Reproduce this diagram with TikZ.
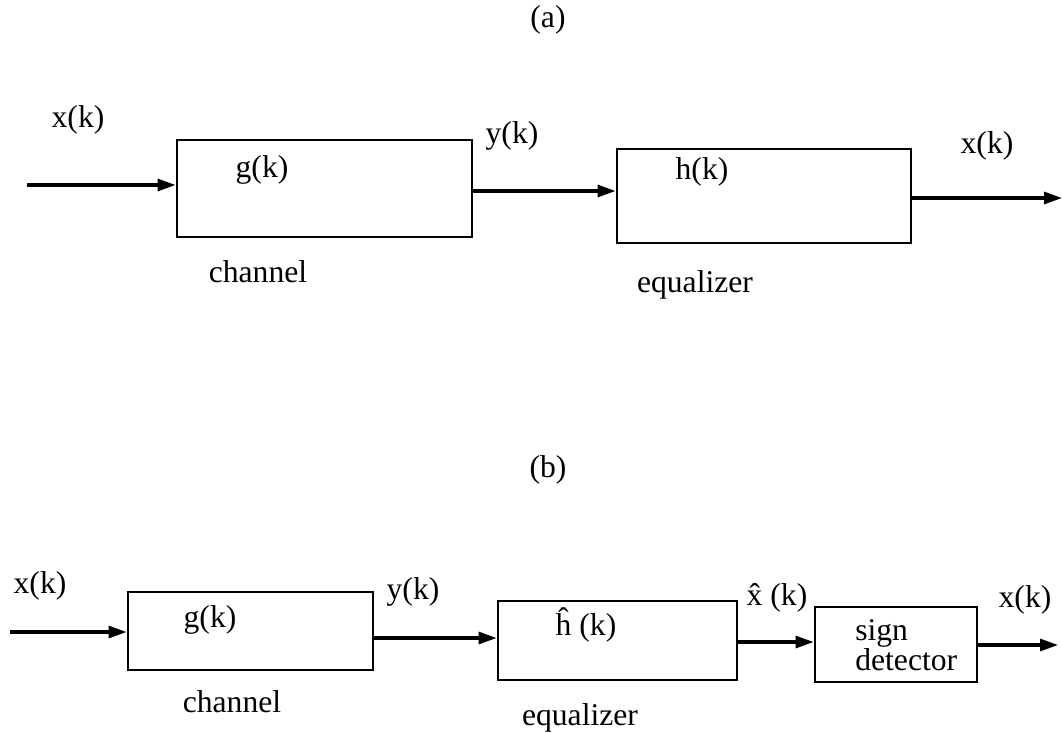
\documentclass[tikz,border=0pt]{standalone}
\usepackage{fontspec}
\setmainfont{Liberation Serif}
\usepackage{tikz}
\usetikzlibrary{positioning,arrows.meta}
\usepackage{xcolor}

\tikzset{
  blk/.style={draw,line width=2pt,rectangle,inner sep=0pt},
  lbl/.style={inner sep=0pt,font=\fontsize{22.5}{21}\selectfont},
  sig/.style={->,line width=2.2pt}
}

\begin{document}
\begin{tikzpicture}[x=0.025cm,y=-0.025cm,>={Triangle[length=4.5mm,width=3mm]}]
\useasboundingbox (0,0) rectangle (1063,732);
% (a)
\node[lbl] (ta) at (548,20) {(a)};
\node[blk,minimum width=7.375cm,minimum height=2.425cm] (g1) at (324.5,188.5) {};
\node[blk,minimum width=7.35cm,minimum height=2.35cm] (h1) at (764,196) {};
\coordinate (in1) at (27,185);
\coordinate (out1) at (1062,198);
\draw[sig] (in1) -- (in1 -| g1.west);
\draw[sig] (g1.east |- 0,191) -- (h1.west |- 0,191);
\draw[sig] (h1.east |- out1) -- (out1);
\node[lbl] (xa) at (78,120) {x(k)};
\node[lbl] (ga) at (262,170) {g(k)};
\node[lbl] (ya) at (512,136) {y(k)};
\node[lbl] (cha) at (258,272) {channel};
\node[lbl] (ha) at (702,172) {h(k)};
\node[lbl] (xoa) at (987,146) {x(k)};
\node[lbl] (eqa) at (695,285) {equalizer};
% (b)
\node[lbl] (tb) at (548,470) {(b)};
\node[blk,minimum width=6.125cm,minimum height=1.95cm] (g2) at (250.5,631) {};
\node[blk,minimum width=5.975cm,minimum height=1.975cm] (h2) at (617.5,640.5) {};
\node[blk,minimum width=4.05cm,minimum height=1.875cm] (sd) at (896,644.5) {};
\coordinate (in2) at (10,632);
\coordinate (out2) at (1058,645);
\draw[sig] (in2) -- (in2 -| g2.west);
\draw[sig] (g2.east |- 0,638) -- (h2.west |- 0,638);
\draw[sig] (h2.east |- 0,642) -- (sd.west |- 0,642);
\draw[sig] (sd.east |- out2) -- (out2);
\node[lbl] (xb) at (40,586) {x(k)};
\node[lbl] (gb) at (210,620) {g(k)};
\node[lbl] (yb) at (413,592) {y(k)};
\node[lbl] (chb) at (232,702) {channel};
\node[lbl] (hb) at (586,625) {\^h (k)};
\node[lbl] (eqb) at (580,718) {equalizer};
\node[lbl] (xhb) at (777,598) {\^x (k)};
\node[lbl,align=left,anchor=west] (sdl) at (855,645) {sign\\detector};
\node[lbl] (xob) at (1025,600) {x(k)};
\end{tikzpicture}
\end{document}
